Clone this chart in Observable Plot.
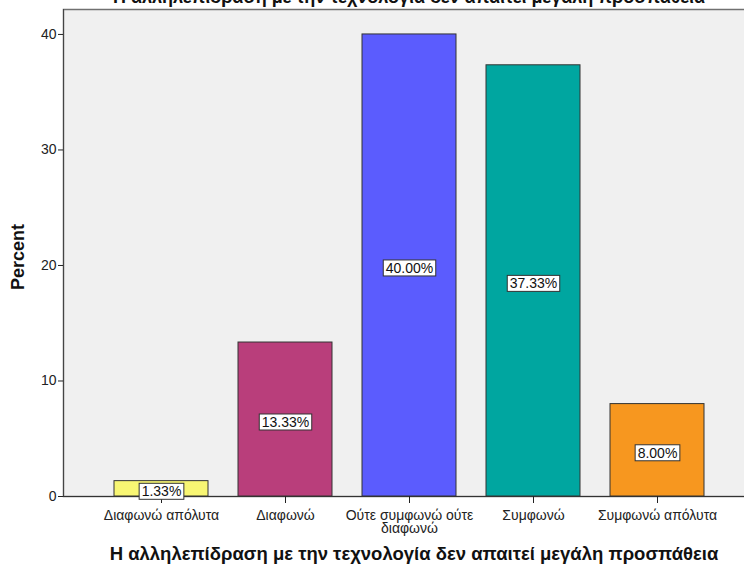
<!DOCTYPE html>
<html>
<head>
<meta charset="utf-8">
<script src="https://cdn.jsdelivr.net/npm/d3@7"></script>
<script src="https://cdn.jsdelivr.net/npm/@observablehq/plot@0.6"></script>
<style>
  html, body { margin: 0; padding: 0; background: #fff; overflow: hidden; }
  #chart { width: 744px; height: 565px; overflow: hidden; }
</style>
</head>
<body>
<div id="chart"></div>
<script>
// Responses to: "Η αλληλεπίδραση με την τεχνολογία δεν απαιτεί μεγάλη προσπάθεια"
const chartTitle = "Η αλληλεπίδραση με την τεχνολογία δεν απαιτεί μεγάλη προσπάθεια";
const yTitle = "Percent";

const categories = [
  "Διαφωνώ απόλυτα",
  "Διαφωνώ",
  "Ούτε συμφωνώ ούτε διαφωνώ",
  "Συμφωνώ",
  "Συμφωνώ απόλυτα"
];
const tickLabels = [
  "Διαφωνώ απόλυτα",
  "Διαφωνώ",
  "Ούτε συμφωνώ ούτε\nδιαφωνώ",
  "Συμφωνώ",
  "Συμφωνώ απόλυτα"
];
const percents = [1.33, 13.33, 40.00, 37.33, 8.00];
const barColors = ["#f8f673", "#b93e7b", "#5b5cfe", "#00a6a0", "#f7971f"];
const yTicks = [0, 10, 20, 30, 40];

const rows = categories.map((c, i) => ({
  category: c,
  percent: percents[i],
  color: barColors[i]
}));

const font = "'Liberation Sans', Arial, sans-serif";

const chart = Plot.plot({
  width: 754,
  height: 565,
  marginTop: 9,
  marginLeft: 63,
  marginRight: 0,
  marginBottom: 69,
  style: {
    fontFamily: font,
    fontSize: "14px",
    background: "#fff",
    color: "#222",
    maxWidth: "none",
    overflow: "hidden"
  },
  x: { domain: categories, paddingInner: 0.245, paddingOuter: 0.403, label: null },
  y: { domain: [0, 42.16], label: null },
  color: { type: "identity" },
  marks: [
    Plot.frame({ fill: "#f0f0f0", stroke: "#707070", strokeWidth: 1.5 }),
    Plot.barY(rows, {
      x: "category",
      y: "percent",
      fill: "color",
      stroke: "#333",
      strokeWidth: 1
    }),
    Plot.frame({ anchor: "left", stroke: "#444" }),
    Plot.ruleY([0], { stroke: "#333" }),
    Plot.axisY({
      ticks: yTicks,
      tickSize: 5,
      tickPadding: 2,
      tickFormat: d => String(d),
      label: null,
      stroke: "#222",
      fontSize: 14
    }),
    Plot.axisX({
      tickSize: 7,
      tickPadding: 7,
      tickFormat: d => tickLabels[categories.indexOf(d)],
      lineHeight: 0.92,
      label: null,
      stroke: "#222",
      fontSize: 14
    }),
    Plot.text([chartTitle], {
      frameAnchor: "top",
      lineAnchor: "bottom",
      dy: -7,
      fontWeight: "bold",
      fontSize: 18,
      fill: "#111"
    }),
    Plot.text([chartTitle], {
      frameAnchor: "bottom",
      lineAnchor: "bottom",
      dy: 63,
      dx: 5,
      fontWeight: "bold",
      fontSize: 18.5,
      fill: "#111"
    }),
    Plot.text([yTitle], {
      frameAnchor: "left",
      textAnchor: "middle",
      rotate: -90,
      dx: -45,
      dy: 4,
      fontWeight: "bold",
      fontSize: 18,
      fill: "#111"
    }),
    Plot.text(rows, {
      x: "category",
      y: d => d.percent / 2,
      text: d => d.percent.toFixed(2) + "%",
      dy: 3,
      fontSize: 14,
      fill: "#111",
      ariaDescription: "value-label"
    })
  ]
});

document.getElementById("chart").appendChild(chart);

// White boxed backgrounds behind the percentage labels
d3.select(chart).selectAll('g[aria-description="value-label"] text').each(function () {
  const node = this;
  const b = node.getBBox();
  const t = node.getAttribute("transform");
  const rect = document.createElementNS("http://www.w3.org/2000/svg", "rect");
  if (t) rect.setAttribute("transform", t);
  rect.setAttribute("x", b.x - 2.5);
  rect.setAttribute("y", b.y);
  rect.setAttribute("width", b.width + 5);
  rect.setAttribute("height", b.height);
  rect.setAttribute("fill", "#fff");
  rect.setAttribute("stroke", "#333");
  rect.setAttribute("stroke-width", 1);
  node.parentNode.insertBefore(rect, node);
});
</script>
</body>
</html>
